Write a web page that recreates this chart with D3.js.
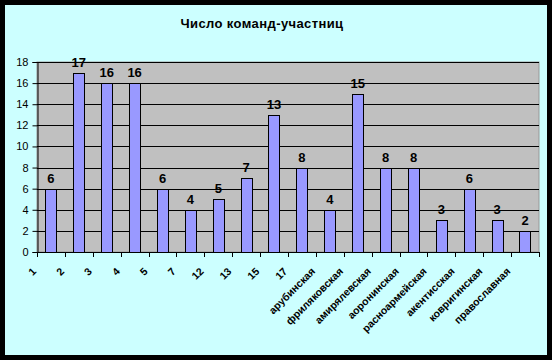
<!DOCTYPE html>
<html>
<head>
<meta charset="utf-8">
<script src="https://cdn.jsdelivr.net/npm/d3@7"></script>
<style>
  body { margin: 0; background: #000; }
  svg { display: block; font-family: "Liberation Sans", Arial, sans-serif; }
</style>
</head>
<body>
<script>
var categories = ["1", "2", "3", "4", "5", "7", "12", "13", "15", "17",
  "арубинская", "фриляковская", "амирялевская", "аоронинская",
  "расноармейская", "акентисская", "ковригинская", "православная"];
var values = [6, 17, 16, 16, 6, 4, 5, 7, 13, 8, 4, 15, 8, 8, 3, 6, 3, 2];
var yTicks = [0, 2, 4, 6, 8, 10, 12, 14, 16, 18];
var title = "Число команд-участниц";

var width = 552, height = 360;
var plot = { left: 37, right: 539, top: 62, bottom: 252 };

var svg = d3.select("body").append("svg")
  .attr("width", width)
  .attr("height", height);

// black frame + cyan chart area
svg.append("rect").attr("width", width).attr("height", height).attr("fill", "#000");
svg.append("rect")
  .attr("x", 5).attr("y", 5)
  .attr("width", width - 10).attr("height", height - 10)
  .attr("fill", "#ccffff");

svg.append("text")
  .attr("x", 262).attr("y", 28)
  .attr("text-anchor", "middle")
  .attr("font-size", 13)
  .attr("font-weight", "bold")
  .attr("letter-spacing", 0.4)
  .text(title);

var x = d3.scaleBand().domain(categories).range([plot.left, plot.right]);
var y = d3.scaleLinear().domain([0, 18]).range([plot.bottom, plot.top]);

svg.append("rect")
  .attr("x", plot.left).attr("y", plot.top)
  .attr("width", plot.right - plot.left).attr("height", plot.bottom - plot.top)
  .attr("fill", "#c0c0c0")
  .attr("stroke", "#999").attr("stroke-width", 1);

// gridlines
svg.append("g").selectAll("line")
  .data(yTicks.slice(1))
  .enter().append("line")
  .attr("x1", plot.left).attr("x2", plot.right)
  .attr("y1", function (d) { return Math.round(y(d)) + 0.5; })
  .attr("y2", function (d) { return Math.round(y(d)) + 0.5; })
  .attr("stroke", "#000");

var barW = x.bandwidth() / 2.5;
svg.append("g").selectAll("rect")
  .data(values)
  .enter().append("rect")
  .attr("x", function (d, i) { return Math.round(x(categories[i]) + (x.bandwidth() - barW) / 2) + 0.5; })
  .attr("y", function (d) { return Math.round(y(d)) + 0.5; })
  .attr("width", Math.round(barW))
  .attr("height", function (d) { return Math.round(y(0)) - Math.round(y(d)); })
  .attr("fill", "#9999ff")
  .attr("stroke", "#000");

svg.append("g").selectAll("text")
  .data(values)
  .enter().append("text")
  .attr("x", function (d, i) { return x(categories[i]) + x.bandwidth() / 2; })
  .attr("y", function (d) { return y(d) - 6; })
  .attr("text-anchor", "middle")
  .attr("font-size", 13)
  .attr("font-weight", "bold")
  .text(function (d) { return d; });

// y axis
var yAxis = d3.axisLeft(y).tickValues(yTicks).tickSize(5).tickPadding(4);
var gy = svg.append("g")
  .attr("transform", "translate(" + (plot.left + 0.5) + ",0)")
  .call(yAxis);
gy.selectAll("text").attr("font-size", 11).attr("fill", "#000").attr("font-family", "Liberation Sans, Arial, sans-serif");
gy.selectAll("line, path").attr("stroke", "#000");

// x axis: ticks at category boundaries
var bounds = categories.map(function (c) { return x(c); }).concat([plot.right]);
svg.append("line")
  .attr("x1", plot.left).attr("x2", plot.right)
  .attr("y1", plot.bottom + 0.5).attr("y2", plot.bottom + 0.5)
  .attr("stroke", "#000");
svg.append("g").selectAll("line")
  .data(bounds)
  .enter().append("line")
  .attr("x1", function (d) { return Math.round(d) + 0.5; })
  .attr("x2", function (d) { return Math.round(d) + 0.5; })
  .attr("y1", plot.bottom).attr("y2", plot.bottom + 5)
  .attr("stroke", "#000");

svg.append("g").selectAll("text")
  .data(categories)
  .enter().append("text")
  .attr("transform", function (d) {
    var cx = x(d) + x.bandwidth() / 2 - 14;
    return "translate(" + cx + "," + 272 + ") rotate(-45)";
  })
  .attr("text-anchor", "end")
  .attr("font-size", 10.5)
  .attr("font-weight", "bold")
  .text(function (d) { return d; });
</script>
</body>
</html>
